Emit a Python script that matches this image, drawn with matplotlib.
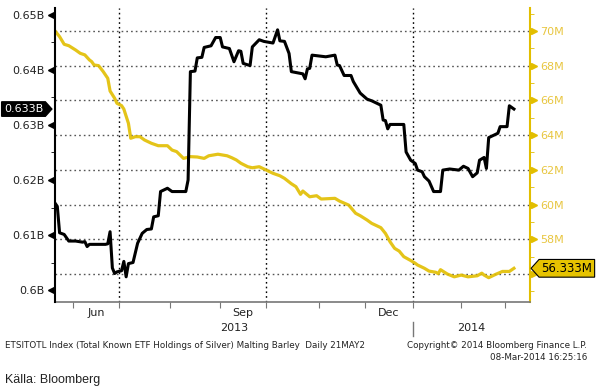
import numpy as np
import matplotlib.pyplot as plt
from matplotlib.path import Path
from matplotlib.transforms import blended_transform_factory

# trading calendar used for the x axis
start = '2013-05-21'
holidays = ['2013-05-27', '2013-07-04', '2013-09-02', '2013-11-28',
            '2013-12-25', '2014-01-01', '2014-01-20', '2014-02-17']

# ETF holdings of silver (left axis, billions)
silver_dates = ['2013-05-21', '2013-05-22', '2013-05-23', '2013-05-28', '2013-05-30',
                '2013-06-04', '2013-06-07', '2013-06-10', '2013-06-11', '2013-06-12',
                '2013-06-21', '2013-06-24', '2013-06-25', '2013-06-26', '2013-06-27',
                '2013-06-28', '2013-07-02', '2013-07-03', '2013-07-05', '2013-07-08',
                '2013-07-10', '2013-07-12', '2013-07-16', '2013-07-18', '2013-07-22',
                '2013-07-23', '2013-07-25', '2013-07-26', '2013-07-31', '2013-08-02',
                '2013-08-12', '2013-08-13', '2013-08-14', '2013-08-16', '2013-08-19',
                '2013-08-21', '2013-08-22', '2013-08-27', '2013-08-29', '2013-09-03',
                '2013-09-04', '2013-09-09', '2013-09-11', '2013-09-13', '2013-09-16',
                '2013-09-17', '2013-09-20', '2013-09-23', '2013-09-26', '2013-09-30',
                '2013-10-04', '2013-10-08', '2013-10-09', '2013-10-11', '2013-10-15',
                '2013-10-16', '2013-10-23', '2013-10-24', '2013-10-25', '2013-10-28',
                '2013-10-29', '2013-11-06', '2013-11-12', '2013-11-13', '2013-11-14',
                '2013-11-18', '2013-11-21', '2013-11-22', '2013-11-27', '2013-12-03',
                '2013-12-05', '2013-12-09', '2013-12-11', '2013-12-12', '2013-12-13',
                '2013-12-16', '2013-12-17', '2013-12-26', '2013-12-27', '2013-12-31',
                '2014-01-03', '2014-01-06', '2014-01-08', '2014-01-09', '2014-01-13',
                '2014-01-15', '2014-01-21', '2014-01-22', '2014-01-27', '2014-01-31',
                '2014-02-04', '2014-02-06', '2014-02-10', '2014-02-12', '2014-02-13',
                '2014-02-18', '2014-02-19', '2014-02-20', '2014-02-26', '2014-02-27',
                '2014-03-04', '2014-03-05', '2014-03-07']
silver_bn = [0.6158, 0.6152, 0.6104, 0.6101, 0.6089,
             0.6089, 0.6087, 0.6088, 0.6079, 0.6083,
             0.6083, 0.6084, 0.6106, 0.6040, 0.6030,
             0.6033, 0.6035, 0.6052, 0.6024, 0.6048,
             0.6050, 0.6085, 0.6103, 0.6110, 0.6111,
             0.6133, 0.6135, 0.6179, 0.6185, 0.6179,
             0.6179, 0.6200, 0.6397, 0.6398, 0.6422,
             0.6423, 0.6441, 0.6444, 0.6459, 0.6459,
             0.6442, 0.6439, 0.6415, 0.6435, 0.6434,
             0.6412, 0.6408, 0.6442, 0.6455, 0.6452,
             0.6449, 0.6473, 0.6453, 0.6452, 0.6430,
             0.6397, 0.6393, 0.6384, 0.6402, 0.6403,
             0.6427, 0.6424, 0.6427, 0.6409, 0.6408,
             0.6390, 0.6390, 0.6379, 0.6358, 0.6347,
             0.6344, 0.6340, 0.6336, 0.6309, 0.6308,
             0.6293, 0.6301, 0.6301, 0.6251, 0.6236,
             0.6230, 0.6218, 0.6215, 0.6206, 0.6198,
             0.6179, 0.6179, 0.6218, 0.6220, 0.6218,
             0.6225, 0.6221, 0.6206, 0.6213, 0.6236,
             0.6241, 0.6221, 0.6277, 0.6285, 0.6297,
             0.6297, 0.6335, 0.6329]

# Malting barley (right axis, millions)
barley_dates = ['2013-05-21', '2013-05-23', '2013-05-28', '2013-05-30', '2013-06-04',
                '2013-06-06', '2013-06-10', '2013-06-12', '2013-06-13', '2013-06-14',
                '2013-06-18', '2013-06-20', '2013-06-24', '2013-06-25', '2013-06-27',
                '2013-06-28', '2013-07-02', '2013-07-03', '2013-07-08', '2013-07-09',
                '2013-07-11', '2013-07-15', '2013-07-17', '2013-07-22', '2013-07-25',
                '2013-07-31', '2013-08-02', '2013-08-06', '2013-08-09', '2013-08-14',
                '2013-08-19', '2013-08-22', '2013-08-26', '2013-08-30', '2013-09-06',
                '2013-09-10', '2013-09-12', '2013-09-16', '2013-09-19', '2013-09-23',
                '2013-09-26', '2013-10-01', '2013-10-04', '2013-10-09', '2013-10-11',
                '2013-10-16', '2013-10-18', '2013-10-22', '2013-10-23', '2013-10-28',
                '2013-10-31', '2013-11-04', '2013-11-12', '2013-11-14', '2013-11-20',
                '2013-11-25', '2013-11-27', '2013-12-03', '2013-12-05', '2013-12-11',
                '2013-12-13', '2013-12-17', '2013-12-19', '2013-12-23', '2013-12-26',
                '2013-12-31', '2014-01-03', '2014-01-06', '2014-01-09', '2014-01-13',
                '2014-01-16', '2014-01-17', '2014-01-21', '2014-01-24', '2014-01-29',
                '2014-02-03', '2014-02-06', '2014-02-12', '2014-02-14', '2014-02-18',
                '2014-02-20', '2014-02-25', '2014-02-28', '2014-03-05', '2014-03-07']
barley_m = [70.00, 69.67, 69.23, 69.15, 68.90,
            68.71, 68.62, 68.33, 68.23, 68.04,
            68.00, 67.66, 67.27, 66.54, 66.12,
            65.83, 65.70, 65.50, 64.68, 63.82,
            63.91, 63.91, 63.72, 63.53, 63.39,
            63.39, 63.14, 63.05, 62.66, 62.76,
            62.74, 62.66, 62.81, 62.90, 62.81,
            62.70, 62.57, 62.38, 62.18, 62.12,
            62.18, 61.99, 61.80, 61.66, 61.51,
            61.20, 61.03, 60.59, 60.78, 60.45,
            60.51, 60.32, 60.36, 60.20, 59.97,
            59.50, 59.36, 59.11, 58.92, 58.67,
            58.34, 57.86, 57.48, 57.32, 57.00,
            56.78, 56.62, 56.52, 56.33, 56.17,
            56.10, 56.02, 56.25, 56.00, 55.84,
            55.94, 55.84, 55.90, 56.05, 55.94,
            55.79, 55.98, 56.15, 56.15, 56.33]

month_starts = ['2013-06-03', '2013-07-01', '2013-08-01', '2013-09-03', '2013-10-01',
                '2013-11-01', '2013-12-02', '2014-01-02', '2014-02-03', '2014-03-03']
quarter_starts = ['2013-07-01', '2013-10-01', '2014-01-02']
month_labels = ['Jun', 'Sep', 'Dec']
month_spans = [('2013-06-03', '2013-07-01'), ('2013-09-03', '2013-10-01'),
               ('2013-12-02', '2014-01-02')]
year_labels = ['2013', '2014']
year_break = '2014-01-02'

left_ticks = [0.60, 0.61, 0.62, 0.63, 0.64, 0.65]
left_labels = ['0.6B', '0.61B', '0.62B', '0.63B', '0.64B', '0.65B']
right_ticks = [56, 58, 60, 62, 64, 66, 68, 70]
# the 56M label sits under the last-value tag in the original
right_labels = ['', '58M', '60M', '62M', '64M', '66M', '68M', '70M']
last_silver = '0.633B'
last_barley = '56.333M'


def tday(dates):
    return np.busday_count(start, np.array(dates, dtype='datetime64[D]'), holidays=holidays)


def tag_left(x0, y0, width, height, mutation_size):
    pad = 0.2 * mutation_size
    x0, y0, width, height = x0 - pad, y0 - pad, width + 2 * pad, height + 2 * pad
    tip = height * 0.45
    verts = [(x0 - tip, y0 + height / 2), (x0, y0), (x0 + width, y0),
             (x0 + width, y0 + height), (x0, y0 + height), (x0 - tip, y0 + height / 2)]
    return Path(verts, closed=True)


def tag_right(x0, y0, width, height, mutation_size):
    pad = 0.2 * mutation_size
    x0, y0, width, height = x0 - pad, y0 - pad, width + 2 * pad, height + 2 * pad
    tip = height * 0.45
    verts = [(x0, y0), (x0 + width, y0), (x0 + width + tip, y0 + height / 2),
             (x0 + width, y0 + height), (x0, y0 + height), (x0, y0)]
    return Path(verts, closed=True)


yellow = '#E2BE00'
yellow_txt = '#E8C640'
grey = '#777777'

fig = plt.figure(figsize=(5.97, 3.91), dpi=100)
ax = fig.add_axes([55 / 597, 1 - 302 / 391, 475 / 597, 294 / 391])
axb = ax.twinx()

# barley on the base axes, right side scale
ax.plot(tday(barley_dates), barley_m, color=yellow, lw=2.3, alpha=0.9, zorder=3)
ax.set_ylim(54.39, 71.32)
ax.set_xlim(0, 207)
ax.yaxis.tick_right()
ax.set_yticks(right_ticks)
ax.set_yticklabels(right_labels)
ax.set_yticks(np.arange(55, 72, 2), minor=True)
ax.tick_params(axis='y', which='major', length=4, color=yellow, labelcolor=yellow_txt,
               labelsize=8, pad=3.5)
ax.tick_params(axis='y', which='minor', length=3, color=yellow)
ax.grid(axis='y', linestyle=(0, (1.2, 2.2)), color='#555555', lw=1)
for q in tday(quarter_starts):
    ax.axvline(q, linestyle=(0, (1.2, 2.2)), color='black', lw=1, zorder=1)

ax.set_xticks(tday(month_starts))
ax.set_xticklabels([])
ax.tick_params(axis='x', length=4, color=grey)
for s in ['top', 'left']:
    ax.spines[s].set_visible(False)
ax.spines['right'].set_color(yellow)
ax.spines['right'].set_linewidth(1.5)
ax.spines['bottom'].set_color(grey)
ax.spines['bottom'].set_linewidth(1.2)

# silver on the twin axes, left side scale
axb.plot(tday(silver_dates), silver_bn, color='black', lw=2.2, zorder=4)
axb.set_ylim(0.59782, 0.65127)
axb.yaxis.tick_left()
axb.set_yticks(left_ticks)
axb.set_yticklabels(left_labels)
axb.set_yticks(np.arange(0.605, 0.651, 0.01), minor=True)
axb.tick_params(axis='y', which='major', length=4, color='black', labelcolor='#222222',
                labelsize=8, pad=3.5)
axb.tick_params(axis='y', which='minor', length=3, color='black')
for s in ['top', 'right', 'bottom']:
    axb.spines[s].set_visible(False)
axb.spines['left'].set_linewidth(1.5)

# arrow heads on the major ticks
tl = blended_transform_factory(axb.transAxes, axb.transData)
axb.plot([-0.009] * len(left_ticks), left_ticks, ls='none', marker='<', ms=5,
         color='black', transform=tl, clip_on=False)
tr = blended_transform_factory(ax.transAxes, ax.transData)
ax.plot([1.009] * len(right_ticks), right_ticks, ls='none', marker='>', ms=5,
        color=yellow, transform=tr, clip_on=False)

# last value tags
axb.text(-0.025, silver_bn[-1], last_silver, transform=tl, ha='right', va='center',
         color='white', fontsize=8, zorder=10,
         bbox=dict(boxstyle=tag_right, fc='black', ec='black'))
ax.text(1.024, barley_m[-1], last_barley, transform=tr, ha='left', va='center',
        color='black', fontsize=8.5, zorder=10,
        bbox=dict(boxstyle=tag_left, fc='#E6C300', ec='black', lw=0.8))

# month and year labels
tx = blended_transform_factory(ax.transData, ax.transAxes)
for lab, (a, b) in zip(month_labels, month_spans):
    ax.text((tday(a) + tday(b)) / 2, -0.038, lab, transform=tx, ha='center', va='center',
            fontsize=8, color='#222222')
yb = tday(year_break)
ax.text(yb / 2, -0.09, year_labels[0], transform=tx, ha='center', va='center',
        fontsize=8, color='#222222')
ax.text((yb + 207) / 2, -0.09, year_labels[1], transform=tx, ha='center', va='center',
        fontsize=8, color='#222222')
ax.plot([yb, yb], [-0.068, -0.116], color=grey, lw=1, transform=tx, clip_on=False)

# footer
fig.text(5 / 597, 1 - 345 / 391,
         'ETSITOTL Index (Total Known ETF Holdings of Silver) Malting Barley  Daily 21MAY2',
         fontsize=6.3, va='center', color='#222222')
fig.text(587 / 597, 1 - 345 / 391, 'Copyright\u00a9 2014 Bloomberg Finance L.P.',
         fontsize=6.3, va='center', ha='right', color='#222222')
fig.text(587 / 597, 1 - 357 / 391, '08-Mar-2014 16:25:16',
         fontsize=6.3, va='center', ha='right', color='#222222')
fig.text(5 / 597, 1 - 380 / 391, 'Källa: Bloomberg', fontsize=9, va='center',
         family=['Liberation Sans Narrow', 'Liberation Sans', 'DejaVu Sans'],
         fontstretch='condensed', color='#222222')

fig.savefig('out.png', dpi=100)
